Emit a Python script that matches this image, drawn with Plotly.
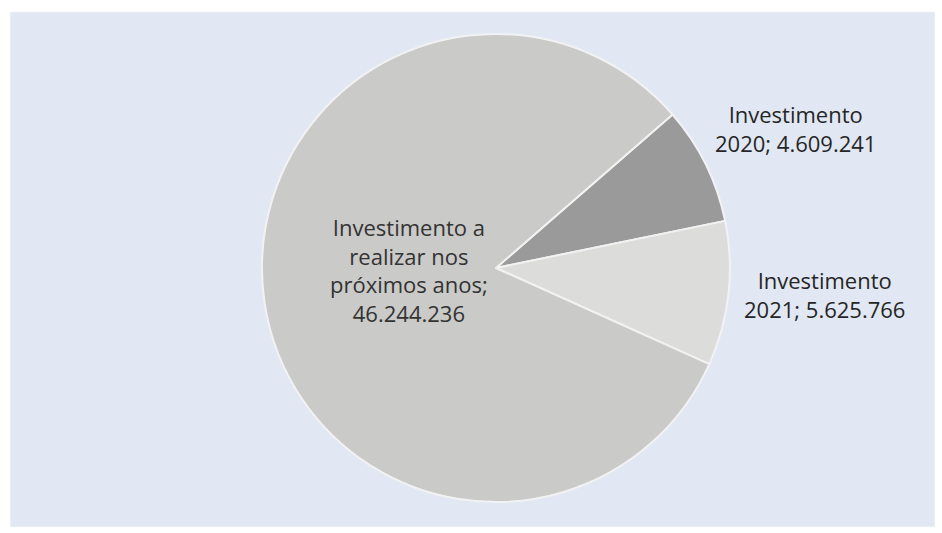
import plotly.graph_objects as go

labels = ["Investimento 2020", "Investimento 2021", "Investimento a realizar nos próximos anos"]
label_lines = ["Investimento<br>2020", "Investimento<br>2021", "Investimento a<br>realizar nos<br>próximos anos"]
values = [4609241, 5625766, 46244236]
colors = ["#9a9a9a", "#dcdcdb", "#cacac8"]

# where each label sits (paper coords)
label_pos = [(0.844, 0.758), (0.875, 0.447), (0.434, 0.493)]


def fmt_pt(v):
    # Portuguese thousands separator
    return f"{v:,}".replace(",", ".")


fig = go.Figure()

fig.add_trace(go.Pie(
    labels=labels,
    values=values,
    textinfo="none",
    sort=False,
    direction="clockwise",
    rotation=49,
    marker=dict(colors=colors, line=dict(color="#f2f2f2", width=2)),
    domain=dict(x=[0.2781, 0.7749], y=[0.0582, 0.9362]),
    showlegend=False,
    hoverinfo="label+value+percent",
))

for i, (txt, v) in enumerate(zip(label_lines, values)):
    sep = "<br>" if i == 2 else " "
    fig.add_annotation(
        x=label_pos[i][0], y=label_pos[i][1], xref="paper", yref="paper",
        text=f"{txt};{sep}{fmt_pt(v)}", showarrow=False,
        font=dict(family="Open Sans", size=22, color="#262626" if i < 2 else "#333333"),
        align="center", xanchor="center", yanchor="middle",
    )

fig.add_shape(type="rect", xref="paper", yref="paper", x0=0.011, x1=0.992, y0=0.012, y1=0.977,
              fillcolor="#e1e8f3", line=dict(color="#e9eef6", width=1), layer="below")

fig.update_layout(
    width=942,
    height=533,
    margin=dict(l=0, r=0, t=0, b=0),
    paper_bgcolor="#ffffff",
    plot_bgcolor="#ffffff",
)

fig.write_html("out.html", config={"displayModeBar": False},
               post_script="document.body.style.margin='0';")
